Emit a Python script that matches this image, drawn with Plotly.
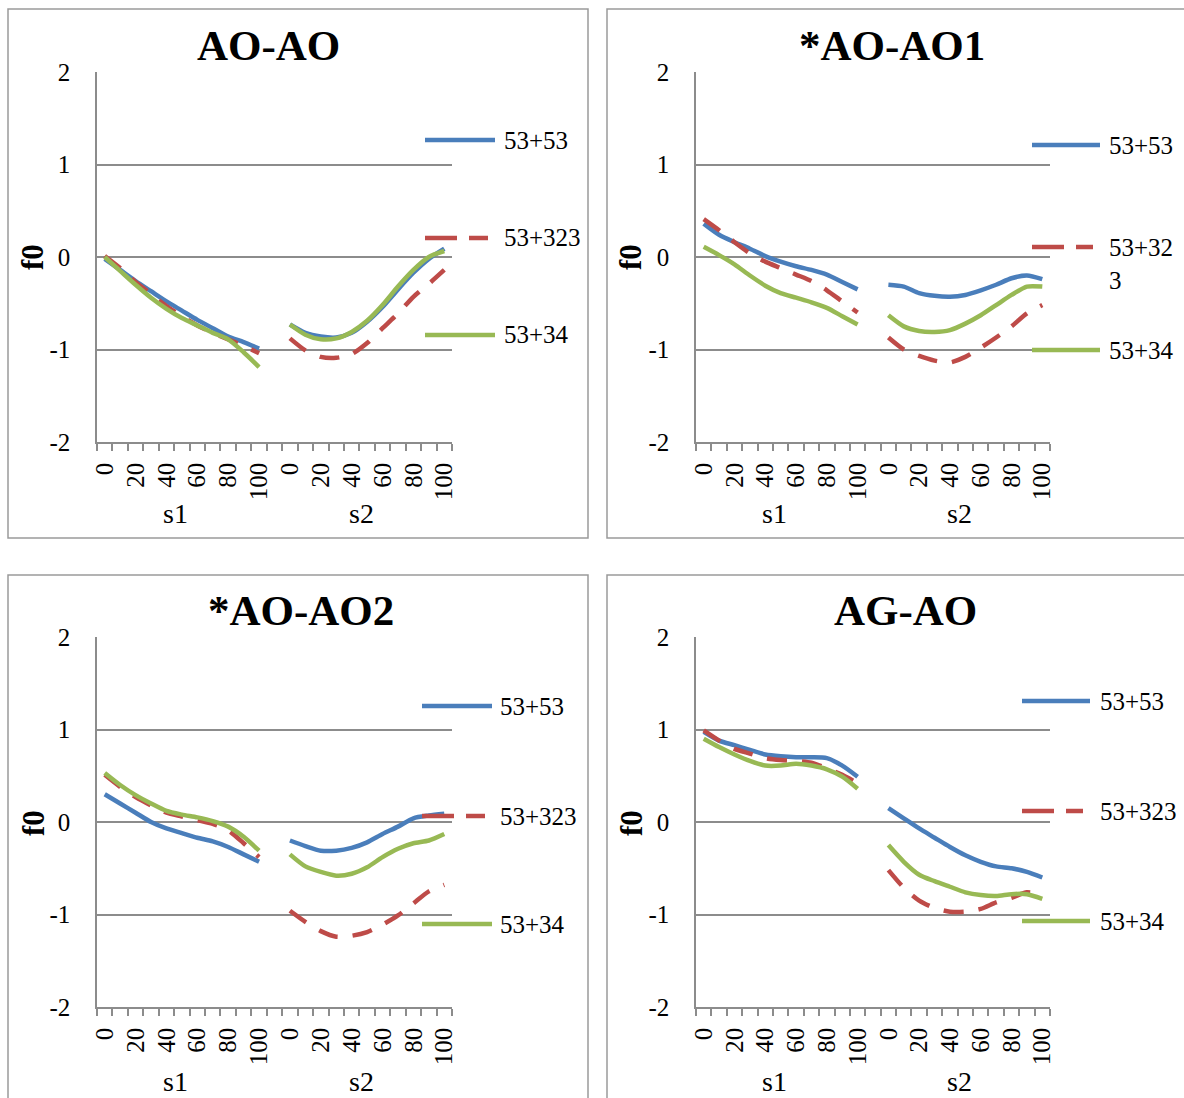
import plotly.graph_objects as go

W, H = 1184, 1098

# ---------------- data ----------------
s1_cats = [0, 10, 20, 30, 40, 50, 60, 70, 80, 90, 100]
s2_cats = [0, 10, 20, 30, 40, 50, 60, 70, 80, 90, 100]
group_names = ["s1", "s2"]
series_names = ["53+53", "53+323", "53+34"]
panel_titles = ["AO-AO", "*AO-AO1", "*AO-AO2", "AG-AO"]
y_ticks = [-2, -1, 0, 1, 2]
y_ticktext = ["-2", "-1", "0", "1", "2"]

# AO-AO
aoao_5353_s1 = [-0.02, -0.14, -0.26, -0.37, -0.48, -0.58, -0.68, -0.77, -0.86, -0.92, -0.99]
aoao_5353_s2 = [-0.73, -0.82, -0.86, -0.87, -0.82, -0.70, -0.54, -0.35, -0.17, -0.02, 0.09]
aoao_53323_s1 = [0.01, -0.12, -0.27, -0.40, -0.53, -0.64, -0.74, -0.82, -0.89, -0.96, -1.04]
aoao_53323_s2 = [-0.88, -1.01, -1.08, -1.09, -1.05, -0.93, -0.77, -0.61, -0.43, -0.29, -0.14]
aoao_5334_s1 = [0.00, -0.15, -0.30, -0.44, -0.56, -0.66, -0.74, -0.82, -0.89, -1.03, -1.19]
aoao_5334_s2 = [-0.73, -0.84, -0.89, -0.88, -0.81, -0.69, -0.52, -0.32, -0.14, 0.00, 0.065]

# *AO-AO1
aoao1_5353_s1 = [0.36, 0.24, 0.16, 0.09, 0.01, -0.05, -0.10, -0.14, -0.19, -0.27, -0.35]
aoao1_5353_s2 = [-0.30, -0.32, -0.39, -0.42, -0.43, -0.41, -0.36, -0.30, -0.23, -0.20, -0.24]
aoao1_53323_s1 = [0.41, 0.29, 0.16, 0.04, -0.05, -0.12, -0.19, -0.26, -0.36, -0.48, -0.60]
aoao1_53323_s2 = [-0.87, -1.00, -1.07, -1.12, -1.14, -1.08, -0.98, -0.87, -0.75, -0.61, -0.52]
aoao1_5334_s1 = [0.11, 0.02, -0.08, -0.20, -0.31, -0.39, -0.44, -0.49, -0.55, -0.64, -0.73]
aoao1_5334_s2 = [-0.63, -0.75, -0.80, -0.81, -0.79, -0.72, -0.63, -0.52, -0.41, -0.32, -0.32]

# *AO-AO2
aoao2_5353_s1 = [0.30, 0.20, 0.10, 0.00, -0.07, -0.12, -0.17, -0.21, -0.27, -0.35, -0.43]
aoao2_5353_s2 = [-0.20, -0.26, -0.31, -0.31, -0.28, -0.22, -0.13, -0.05, 0.04, 0.07, 0.09]
aoao2_53323_s1 = [0.51, 0.38, 0.27, 0.18, 0.10, 0.06, 0.02, -0.02, -0.09, -0.23, -0.38]
aoao2_53323_s2 = [-0.96, -1.08, -1.18, -1.24, -1.23, -1.19, -1.11, -1.01, -0.88, -0.75, -0.68]
aoao2_5334_s1 = [0.53, 0.40, 0.29, 0.20, 0.12, 0.08, 0.05, 0.01, -0.05, -0.16, -0.31]
aoao2_5334_s2 = [-0.35, -0.48, -0.54, -0.58, -0.56, -0.49, -0.38, -0.29, -0.23, -0.20, -0.13]

# AG-AO
agao_5353_s1 = [0.975, 0.88, 0.83, 0.78, 0.73, 0.71, 0.70, 0.70, 0.69, 0.61, 0.49]
agao_5353_s2 = [0.15, 0.04, -0.07, -0.17, -0.27, -0.36, -0.43, -0.48, -0.50, -0.54, -0.60]
agao_53323_s1 = [0.99, 0.88, 0.79, 0.74, 0.69, 0.67, 0.66, 0.64, 0.58, 0.51, 0.42]
agao_53323_s2 = [-0.52, -0.71, -0.85, -0.93, -0.97, -0.97, -0.94, -0.87, -0.82, -0.76, -0.79]
agao_5334_s1 = [0.90, 0.81, 0.73, 0.66, 0.61, 0.61, 0.63, 0.61, 0.57, 0.49, 0.36]
agao_5334_s2 = [-0.25, -0.43, -0.57, -0.64, -0.70, -0.76, -0.79, -0.80, -0.78, -0.78, -0.83]

panel_data = [
    [(aoao_5353_s1, aoao_5353_s2), (aoao_53323_s1, aoao_53323_s2), (aoao_5334_s1, aoao_5334_s2)],
    [(aoao1_5353_s1, aoao1_5353_s2), (aoao1_53323_s1, aoao1_53323_s2), (aoao1_5334_s1, aoao1_5334_s2)],
    [(aoao2_5353_s1, aoao2_5353_s2), (aoao2_53323_s1, aoao2_53323_s2), (aoao2_5334_s1, aoao2_5334_s2)],
    [(agao_5353_s1, agao_5353_s2), (agao_53323_s1, agao_53323_s2), (agao_5334_s1, agao_5334_s2)],
]
# legend label as displayed (panel 2 wraps the long label)
legend_labels = [
    ["53+53", "53+323", "53+34"],
    ["53+53", "53+32<br>3", "53+34"],
    ["53+53", "53+323", "53+34"],
    ["53+53", "53+323", "53+34"],
]

# ---------------- style / layout ----------------
colors = ["#4A7EBB", "#BE4B48", "#98B954"]
dashes = ["solid", "20px,15px", "solid"]
legend_dashes = ["solid", "32px,12px", "solid"]
FONT = "Liberation Serif, Times New Roman, serif"
GRID = "#8C8C8C"
BORDER = "#9A9A9A"

# plot areas in pixels: (x0, x1, ytop, ybottom)
plot_px = [(97, 452, 72, 442), (696, 1050, 72, 442), (97, 452, 637, 1007), (696, 1050, 637, 1007)]
# panel frames (x0, y0, x1, y1)
frame_px = [(8, 9, 588, 538), (607, 9, 1195, 538), (8, 575, 588, 1110), (607, 575, 1195, 1110)]
title_px = [(268, 45), (892, 45), (301, 610), (905, 610)]
ylabel_px = [(33, 257), (631, 257), (33, 823), (631, 823)]
glabel_y = [514, 514, 1081, 1081]
# legend: line x0, x1, text x, entry y's
legend_px = [
    (425, 495, 502, [140, 238, 335]),
    (1032, 1100, 1107, [145, 247, 350]),
    (422, 492, 498, [706, 816, 924]),
    (1022, 1090, 1098, [701, 811, 921]),
]


def px_x(v):
    return v / W


def px_y(v):
    return 1 - v / H


# combined category positions: s1 categories, one empty slot, s2 categories
cats = [("s1", c) for c in s1_cats] + [None] + [("s2", c) for c in s2_cats]
xpos = list(range(len(cats)))
tickvals = [i for i, c in enumerate(cats) if c is not None and c[1] % 20 == 0]
ticktext = [str(cats[i][1]) for i in tickvals]
boundaries = [i - 0.5 for i in range(len(cats) + 1)]
group_center = {
    "s1": sum(i for i, c in enumerate(cats) if c and c[0] == "s1") / len(s1_cats),
    "s2": sum(i for i, c in enumerate(cats) if c and c[0] == "s2") / len(s2_cats),
}

fig = go.Figure()
shapes = []
annotations = []

for p in range(4):
    ax = "" if p == 0 else str(p + 1)
    xa, ya = "x" + ax, "y" + ax
    for s in range(3):
        s1v, s2v = panel_data[p][s]
        yv = list(s1v) + [None] + list(s2v)
        fig.add_trace(go.Scatter(
            x=xpos, y=yv, xaxis=xa, yaxis=ya, mode="lines",
            name=series_names[s], showlegend=False, connectgaps=False,
            line=dict(color=colors[s], width=4.5, dash=dashes[s], shape="spline", smoothing=0.7),
        ))
    x0, x1, yt, yb = plot_px[p]
    fig.layout["xaxis" + ax] = dict(
        domain=[px_x(x0), px_x(x1)], anchor=ya, range=[-0.5, len(cats) - 0.5],
        showgrid=False, zeroline=False, showline=True, linecolor=GRID, linewidth=1.5,
        tickmode="array", tickvals=tickvals, ticktext=ticktext, ticks="",
        tickangle=-90, ticklabelstandoff=9, automargin=False,
        tickfont=dict(family=FONT, size=25, color="black"),
        minor=dict(tickmode="array", tickvals=boundaries, ticks="outside", ticklen=7,
                   tickcolor=GRID, tickwidth=1.5, showgrid=False),
        fixedrange=True,
    )
    fig.layout["yaxis" + ax] = dict(
        domain=[px_y(yb), px_y(yt)], anchor=xa, range=[-2, 2],
        tickmode="array", tickvals=y_ticks, ticktext=y_ticktext, ticks="",
        showgrid=True, gridcolor=GRID, gridwidth=1.5, zeroline=False,
        showline=True, linecolor=GRID, linewidth=1.5, ticklabelstandoff=20, automargin=False,
        tickfont=dict(family=FONT, size=25, color="black"),
        fixedrange=True,
    )
    # frame
    fx0, fy0, fx1, fy1 = frame_px[p]
    shapes.append(dict(type="rect", xref="paper", yref="paper",
                       x0=px_x(fx0), x1=px_x(fx1), y0=px_y(fy1), y1=px_y(fy0),
                       line=dict(color=BORDER, width=1.5), fillcolor="rgba(0,0,0,0)", layer="below"))
    # title
    tx, ty = title_px[p]
    annotations.append(dict(text="<b>%s</b>" % panel_titles[p], xref="paper", yref="paper",
                            x=px_x(tx), y=px_y(ty), xanchor="center", yanchor="middle",
                            showarrow=False, font=dict(family=FONT, size=43, color="black")))
    # y axis title
    lx, ly = ylabel_px[p]
    annotations.append(dict(text="<b>f0</b>", xref="paper", yref="paper",
                            x=px_x(lx), y=px_y(ly), xanchor="center", yanchor="middle",
                            textangle=-90, showarrow=False,
                            font=dict(family=FONT, size=31, color="black")))
    # group labels
    for g in group_names:
        annotations.append(dict(text=g, xref=xa, yref="paper", x=group_center[g], xshift=-6,
                                y=px_y(glabel_y[p]), xanchor="center", yanchor="middle",
                                showarrow=False, font=dict(family=FONT, size=28, color="black")))
    # legend
    lx0, lx1, ltx, lys = legend_px[p]
    for s in range(3):
        yy = lys[s]
        end = lx1 - 7 if dashes[s] != "solid" else lx1
        shapes.append(dict(type="line", xref="paper", yref="paper",
                           x0=px_x(lx0), x1=px_x(end), y0=px_y(yy), y1=px_y(yy),
                           line=dict(color=colors[s], width=4.5, dash=legend_dashes[s])))
        lab = legend_labels[p][s]
        if "<br>" in lab:
            annotations.append(dict(text=lab, xref="paper", yref="paper",
                                    x=px_x(ltx), y=px_y(yy - 15), xanchor="left", yanchor="top",
                                    align="left", showarrow=False,
                                    font=dict(family=FONT, size=25, color="black")))
        else:
            annotations.append(dict(text=lab, xref="paper", yref="paper",
                                    x=px_x(ltx), y=px_y(yy), xanchor="left", yanchor="middle",
                                    showarrow=False, font=dict(family=FONT, size=25, color="black")))

fig.update_layout(
    width=W, height=H, margin=dict(l=0, r=0, t=0, b=0, pad=0, autoexpand=False),
    paper_bgcolor="white", plot_bgcolor="white",
    shapes=shapes, annotations=annotations, showlegend=False,
)

fig.write_html("out.html")
